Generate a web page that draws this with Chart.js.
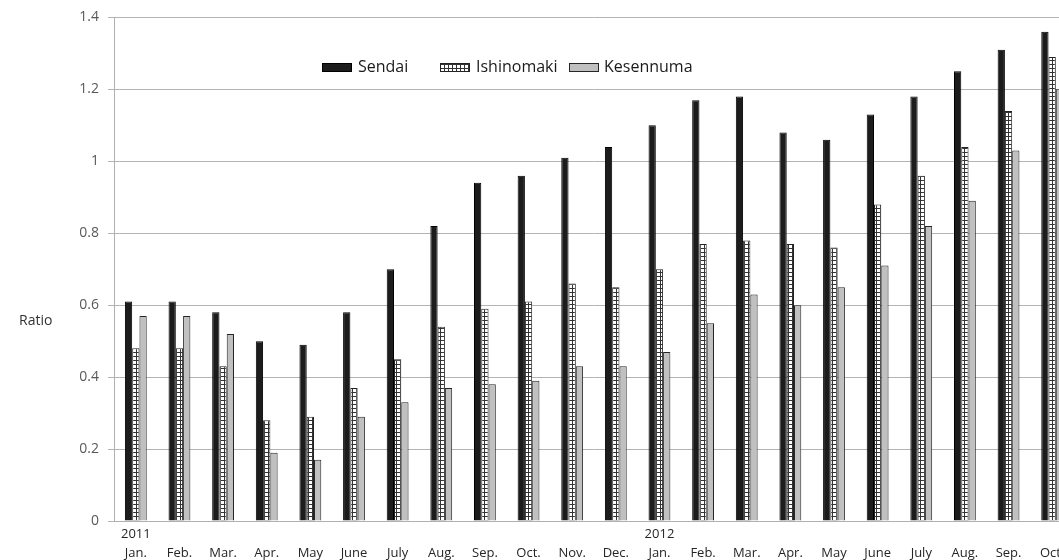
<!DOCTYPE html>
<html>
<head>
<meta charset="utf-8">
<script src="https://cdn.jsdelivr.net/npm/chart.js@4.4.1/dist/chart.umd.min.js"></script>
<style>
  html, body { margin: 0; padding: 0; background: #fff; overflow: hidden; }
  #wrap { width: 1074px; height: 560px; }
</style>
</head>
<body>
<div id="wrap"><canvas id="ratioChart"></canvas></div>
<script>
// months Jan 2011 .. Oct 2012, year shown above January
const years = ["2011", "", "", "", "", "", "", "", "", "", "", "", "2012", "", "", "", "", "", "", "", "", ""];
const months = ["Jan.", "Feb.", "Mar.", "Apr.", "May", "June", "July", "Aug.", "Sep.", "Oct.", "Nov.", "Dec.",
                "Jan.", "Feb.", "Mar.", "Apr.", "May", "June", "July", "Aug.", "Sep.", "Oct."];

const sendai     = [0.61, 0.61, 0.58, 0.50, 0.49, 0.58, 0.70, 0.82, 0.94, 0.96, 1.01, 1.04,
                    1.10, 1.17, 1.18, 1.08, 1.06, 1.13, 1.18, 1.25, 1.31, 1.36];
const ishinomaki = [0.48, 0.48, 0.43, 0.28, 0.29, 0.37, 0.45, 0.54, 0.59, 0.61, 0.66, 0.65,
                    0.70, 0.77, 0.78, 0.77, 0.76, 0.88, 0.96, 1.04, 1.14, 1.29];
const kesennuma  = [0.57, 0.57, 0.52, 0.19, 0.17, 0.29, 0.33, 0.37, 0.38, 0.39, 0.43, 0.43,
                    0.47, 0.55, 0.63, 0.60, 0.65, 0.71, 0.82, 0.89, 1.03, 1.20];

const yTicks = [0, 0.2, 0.4, 0.6, 0.8, 1, 1.2, 1.4];

// grid pattern for Ishinomaki bars
function gridPattern() {
  const c = document.createElement("canvas");
  c.width = 4;
  c.height = 4;
  const g = c.getContext("2d");
  g.fillStyle = "#ffffff";
  g.fillRect(0, 0, 4, 4);
  g.fillStyle = "#333333";
  g.fillRect(0, 0, 4, 1);
  g.fillRect(0, 0, 1, 4);
  return g.createPattern(c, "repeat");
}

const labels = months.map((m, i) => [years[i], m]);

// draws the "Ratio" text and the legend inside the plot
const extras = {
  id: "extras",
  afterDraw(chart) {
    const ctx = chart.ctx;
    ctx.save();
    ctx.fillStyle = "#333";
    ctx.font = "14px 'Open Sans'";
    ctx.textBaseline = "middle";
    ctx.textAlign = "left";
    ctx.fillText("Ratio", 19, 321);

    const swX = [322, 440, 569];
    const txX = [358, 476, 604];
    chart.data.datasets.forEach((ds, i) => {
      ctx.fillStyle = ds.backgroundColor;
      ctx.fillRect(swX[i], 63, 30, 9);
      ctx.strokeStyle = ds.borderColor;
      ctx.lineWidth = 1;
      ctx.strokeRect(swX[i] + 0.5, 63.5, 29, 8);
      ctx.fillStyle = "#1a1a1a";
      ctx.font = "16px 'Open Sans'";
      ctx.fillText(ds.label, txX[i], 67);
    });
    ctx.restore();
  }
};

const ctx = document.getElementById("ratioChart").getContext("2d");
new Chart(ctx, {
  type: "bar",
  data: {
    labels: labels,
    datasets: [
      { label: "Sendai", data: sendai, backgroundColor: "#1c1c1c", borderColor: "#000", borderWidth: 1 },
      { label: "Ishinomaki", data: ishinomaki, backgroundColor: gridPattern(), borderColor: "#222", borderWidth: 1 },
      { label: "Kesennuma", data: kesennuma, backgroundColor: "#c0c0c0", borderColor: "#262626", borderWidth: 1 }
    ]
  },
  options: {
    responsive: true,
    maintainAspectRatio: false,
    animation: false,
    layout: { padding: { top: 10, right: 0, bottom: 0, left: 0 } },
    datasets: { bar: { categoryPercentage: 0.5, barPercentage: 1.0 } },
    plugins: {
      legend: { display: false },
      tooltip: { enabled: false }
    },
    scales: {
      x: {
        grid: { display: false, drawTicks: false },
        border: { display: true, color: "#b0b0b0" },
        ticks: {
          color: "#262626",
          font: { family: "'Open Sans'", size: 13, lineHeight: 1.45 },
          maxRotation: 0,
          autoSkip: false,
          padding: 4
        },
        afterFit(scale) { scale.height = 39; }
      },
      y: {
        min: 0,
        max: 1.4,
        afterBuildTicks(scale) { scale.ticks = yTicks.map(v => ({ value: v })); },
        grid: { color: "#b4b4b4", tickLength: 6 },
        border: { color: "#b0b0b0" },
        ticks: {
          color: "#595959",
          font: { family: "'Open Sans'", size: 14 },
          padding: 9,
          callback: v => String(Math.round(v * 10) / 10)
        },
        afterFit(scale) { scale.width = 114; }
      }
    }
  },
  plugins: [extras]
});
</script>
</body>
</html>
